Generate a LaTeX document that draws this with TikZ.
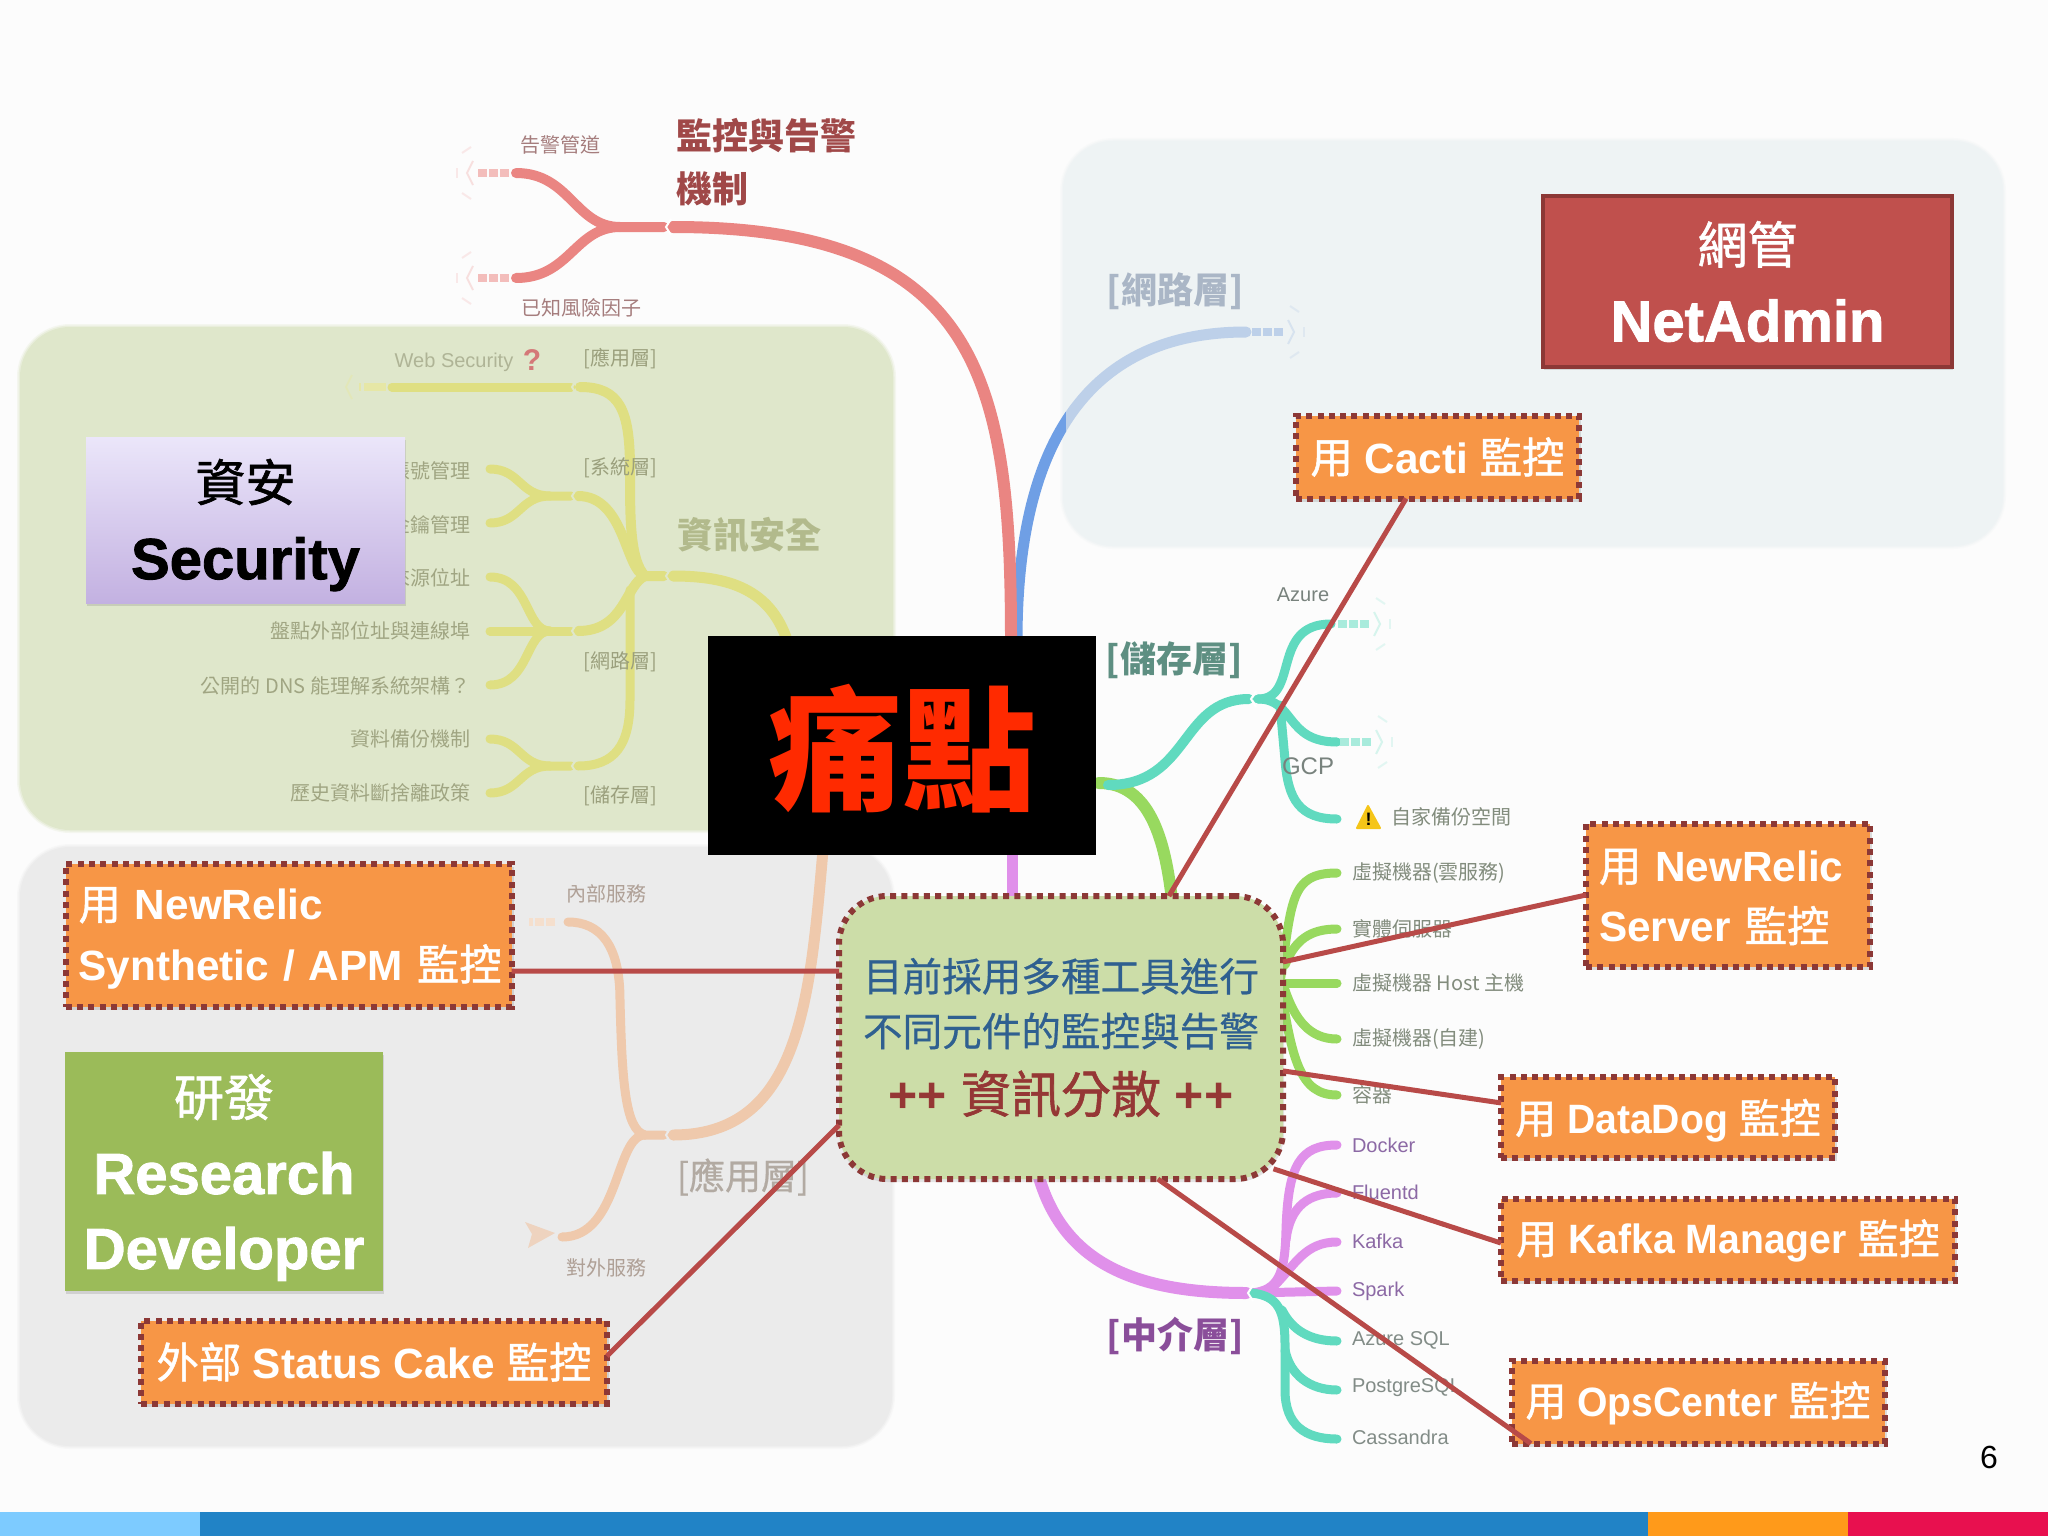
\documentclass[tikz,border=0pt]{standalone}
\usepackage{fontspec}
\usetikzlibrary{shadows,calc}
\setmainfont{Liberation Sans}
\newfontfamily\cjkf{Noto Sans CJK TC}
\newfontfamily\cjkm[FakeBold=0.5]{Noto Sans CJK TC}
\newfontfamily\cjkh[FakeBold=1.2]{Noto Sans CJK TC}
\newfontfamily\heavyf[FakeBold=1.5]{Liberation Sans Bold}
\newfontfamily\orgf[FakeStretch=0.955]{Liberation Sans Bold}
\newfontfamily\orgw{Liberation Sans Bold}
\newcommand{\Cj}[1]{{\mdseries\cjkh #1}}
\newcommand{\dn}[2]{\raisebox{-#1}[\height][\depth]{#2}}
\newcommand{\fs}[1]{\fontsize{#1}{#1}\selectfont}
\definecolor{cRed}{HTML}{EA8582}\definecolor{cRedP}{HTML}{F3BDBB}
\definecolor{cBlue}{HTML}{6F9FE5}\definecolor{cBlueP}{HTML}{BDD0E9}
\definecolor{cYel}{HTML}{DFDF82}\definecolor{cYelP}{HTML}{E6E7A6}
\definecolor{cTeal}{HTML}{60DABF}\definecolor{cGreen}{HTML}{98D95F}
\definecolor{cPur}{HTML}{E090EA}\definecolor{cPeach}{HTML}{EFC9AC}
\definecolor{cBorder}{HTML}{8C3836}\definecolor{cConn}{HTML}{B84A48}
\definecolor{cOrange}{HTML}{F79646}
\definecolor{pNet}{RGB}{238,243,244}\definecolor{pSec}{RGB}{223,231,203}\definecolor{pDev}{RGB}{235,235,235}
\tikzset{
  br/.style={line width=#1,line cap=round},
  lb/.style={inner sep=0,outer sep=0,font=\cjkf\fs{20}},
  lblat/.style={inner sep=0,outer sep=0,font=\fs{20}},
  head/.style={inner sep=0,outer sep=0,font=\cjkf\bfseries\fs{36}},
  obox/.style={draw=cBorder,fill=cOrange,line width=6pt,dash pattern=on 6pt off 5.3pt,
    inner sep=0,outer sep=0,text=white,font=\orgf\fs{41},
    drop shadow={opacity=.25,shadow xshift=2pt,shadow yshift=-3pt}},
  oboxw/.style={obox,font=\orgw\fs{42.3}},
  tbox/.style={inner sep=0,outer sep=0,align=center,font=\heavyf\fs{58},
    drop shadow={opacity=.25,shadow xshift=1pt,shadow yshift=-3pt}},
  conn/.style={draw=cConn,line width=5pt},
}
\newcommand{\softpanel}[5]{%
  \draw[#5,opacity=.25,line width=6pt,rounded corners=50pt] (#1,#2) rectangle (#3,#4);
  \draw[#5,opacity=.5,line width=3pt,rounded corners=50pt] (#1,#2) rectangle (#3,#4);
  \fill[#5,rounded corners=50pt] (#1,#2) rectangle (#3,#4);}
\newcommand{\burst}[4]{% x y xscale colour
  \begin{scope}[shift={(#1,#2)},xscale=#3]
    \draw[#4,line width=8pt,dash pattern=on 9pt off 2pt] (0,0)--(32,0);
    \draw[#4,line width=2pt,opacity=.45] (36,-12)--(42,0)--(36,12);
    \draw[#4,line width=2pt,opacity=.3] (52,-5)--(52,5);
    \draw[#4,line width=2pt,opacity=.3] (38,-26)--(47,-20) (38,26)--(47,20);
  \end{scope}}
\newcommand{\gapmark}[3]{\draw[#3,line width=2pt] (#1+3,#2-8)--(#1-2,#2)--(#1+3,#2+8);}
\begin{document}
\begin{tikzpicture}[x=1pt,y=-1pt]
\useasboundingbox (0,0) rectangle (2048,1536);
\fill[white!99!black] (0,0) rectangle (2048,1536);
% bottom bar
\fill[fill={rgb,255:red,125;green,203;blue,255}] (0,1512) rectangle (200,1536);
\fill[fill={rgb,255:red,33;green,131;blue,198}] (200,1512) rectangle (1648,1536);
\fill[fill={rgb,255:red,255;green,154;blue,26}] (1648,1512) rectangle (1848,1536);
\fill[fill={rgb,255:red,232;green,16;blue,79}] (1848,1512) rectangle (2048,1536);
% panels
\softpanel{1063}{141}{2003}{546}{pNet}
\softpanel{20}{327}{893}{830}{pSec}
\softpanel{20}{847}{892}{1446}{pDev}

% blue branch
\begin{scope}
  \clip (900,300) rectangle (1066,700);
  \draw[cBlue,br=11pt] (1017,640) .. controls (1017,440) and (1090,332) .. (1246,332);
\end{scope}
\begin{scope}
  \clip (1066,300) rectangle (1300,700);
  \draw[cBlueP,br=11pt] (1017,640) .. controls (1017,440) and (1090,332) .. (1246,332);
\end{scope}
\burst{1252}{332}{1}{cBlueP}
% red branch
\draw[cRed,br=12pt] (1011,640) .. controls (1011,380) and (980,227) .. (673,227);
\draw[cRed,br=10pt] (664,227) -- (620,227) .. controls (575,227) and (570,173) .. (516,173);
\draw[cRed,br=10pt] (620,227) .. controls (575,227) and (570,278) .. (516,278);
\gapmark{668}{227}{white}
\burst{509}{173}{-1}{cRedP}
\burst{509}{278}{-1}{cRedP}
% yellow branches
\draw[cYel,br=11pt] (787,640) .. controls (770,590) and (730,576) .. (673,576);
\draw[cYel,br=10pt] (664,576) -- (645,576) .. controls (630,560) and (630,520) .. (630,470) .. controls (630,410) and (620,387) .. (580,387);
\draw[cYel,br=9pt] (571,387) -- (392,387);
\draw[cYelP,line width=8pt,dash pattern=on 22pt off 3pt] (386,387) -- (359,387);
\draw[cYelP,line width=2pt,opacity=.5] (352,375)--(346,387)--(352,399);
\draw[cYel,br=10pt] (645,576) .. controls (625,570) and (625,496) .. (578,496);
\draw[cYel,br=9pt] (571,496) -- (550,496) .. controls (520,496) and (520,469) .. (490,469);
\draw[cYel,br=9pt] (550,496) .. controls (520,496) and (520,523) .. (490,523);
\draw[cYel,br=10pt] (645,576) .. controls (625,585) and (625,631) .. (578,631);
\draw[cYel,br=9pt] (571,631) -- (490,631);
\draw[cYel,br=9pt] (550,631) .. controls (525,631) and (530,577) .. (490,577);
\draw[cYel,br=9pt] (550,631) .. controls (525,631) and (530,685) .. (490,685);
\draw[cYel,br=9pt] (630,590) -- (630,700) .. controls (630,745) and (615,766) .. (578,766);
\draw[cYel,br=9pt] (571,766) -- (550,766) .. controls (520,766) and (520,739) .. (490,739);
\draw[cYel,br=9pt] (550,766) .. controls (520,766) and (520,793) .. (490,793);
\gapmark{668}{576}{pSec}\gapmark{574}{387}{pSec}\gapmark{574}{496}{pSec}\gapmark{574}{631}{pSec}\gapmark{574}{766}{pSec}
% peach branches
\draw[cPeach,br=11pt] (823,850) .. controls (810,1000) and (800,1135) .. (673,1135);
\draw[cPeach,br=9pt] (664,1135) -- (645,1135) .. controls (625,1130) and (622,1080) .. (620,1000) .. controls (620,945) and (600,922) .. (568,922);
\draw[cPeach,br=9pt] (645,1135) .. controls (615,1135) and (620,1237) .. (562,1237);
\gapmark{668}{1135}{pDev}
\draw[cPeach!60!white,line width=8pt,dash pattern=on 9pt off 2pt] (555,922) -- (529,922);
\fill[cPeach!70!pDev] (555,1233) -- (525,1222) -- (532,1234) -- (528,1248) -- cycle;
% teal/green branches
\draw[cGreen,br=12pt] (1099,783) .. controls (1150,783) and (1165,840) .. (1172,900);
\draw[cTeal,br=10pt] (1108,785) .. controls (1190,785) and (1180,699) .. (1249,699);
\draw[cTeal,br=9pt] (1258,699) .. controls (1300,699) and (1270,624) .. (1331,624);
\draw[cTeal,br=9pt] (1258,699) .. controls (1295,699) and (1285,742) .. (1337,742);
\draw[cTeal,br=9pt] (1280,705) -- (1285,760) .. controls (1288,800) and (1300,819) .. (1337,819);
\gapmark{1253}{699}{white}
\burst{1338}{624}{1}{cTeal!55!white}
\burst{1340}{742}{1}{cTeal!55!white}
% green server tree
\draw[cGreen,br=9pt] (1270,983) -- (1337,983);
\draw[cGreen,br=9pt] (1280,983) .. controls (1292,900) and (1290,873) .. (1337,873);
\draw[cGreen,br=9pt] (1285,965) .. controls (1295,940) and (1310,929) .. (1337,929);
\draw[cGreen,br=9pt] (1285,990) .. controls (1295,1020) and (1310,1039) .. (1337,1039);
\draw[cGreen,br=9pt] (1280,983) .. controls (1292,1060) and (1300,1095) .. (1337,1095);
% purple branches
\draw[cPur,br=11pt] (1012,850) -- (1012,900);
\draw[cPur,br=12pt] (1037,1170) .. controls (1060,1260) and (1130,1293) .. (1246,1293);
\draw[cPur,br=9pt] (1252,1293) .. controls (1278,1290) and (1285,1275) .. (1286,1230) .. controls (1288,1165) and (1300,1145) .. (1337,1145);
\draw[cPur,br=9pt] (1286,1240) .. controls (1290,1205) and (1310,1193) .. (1337,1193);
\draw[cPur,br=9pt] (1275,1285) .. controls (1295,1265) and (1305,1242) .. (1337,1242);
\draw[cPur,br=9pt] (1252,1293) -- (1337,1291);
% teal lower
\draw[cTeal,br=9pt] (1252,1293) .. controls (1278,1296) and (1285,1310) .. (1285,1345) -- (1285,1390) .. controls (1285,1425) and (1305,1439) .. (1337,1439);
\draw[cTeal,br=9pt] (1282,1310) .. controls (1292,1330) and (1310,1341) .. (1337,1341);
\draw[cTeal,br=9pt] (1285,1350) .. controls (1290,1375) and (1310,1390) .. (1337,1390);
\gapmark{1250}{1293}{white}
% warning sign
\fill[line join=round,draw={rgb,255:red,245;green,197;blue,24},line width=2pt,fill={rgb,255:red,245;green,197;blue,24}] (1357,828) -- (1368,806) -- (1380,828) -- cycle;
\node[inner sep=0,font=\bfseries\fs{18}] (warnmark) at (1368.5,819) {!};

% mind map labels
\node[lb,text={rgb,255:red,165;green,125;blue,125}] (lAlarm) at (560,145) {告警管道};
\node[lb,text={rgb,255:red,165;green,125;blue,125}] (lRisk) at (581,308) {已知風險因子};
\node[head,anchor=west,text={rgb,255:red,160;green,72;blue,72}] (lMon1) at (676,136) {監控與告警};
\node[head,anchor=west,text={rgb,255:red,160;green,72;blue,72}] (lMon2) at (676,189) {機制};
\node[lblat,text={rgb,255:red,175;green,180;blue,150}] (lWeb) at (454,362) {Web Security};
\node[inner sep=0,font=\bfseries\fs{30},text={rgb,255:red,212;green,120;blue,120}] (lQ) at (532,360) {?};
\node[lb,text={rgb,255:red,155;green,160;blue,125}] (lA1) at (620,359) {[應用層]};
\node[lb,text={rgb,255:red,155;green,160;blue,125}] (lA2) at (620,468) {[系統層]};
\node[lb,text={rgb,255:red,155;green,160;blue,125}] (lA3) at (620,662) {[網路層]};
\node[lb,text={rgb,255:red,155;green,160;blue,125}] (lA4) at (620,796) {[儲存層]};
\node[head,anchor=west,text={rgb,255:red,178;green,186;blue,140}] (lSec) at (677,535) {資訊安全};
\tikzset{seclab/.style={lb,anchor=east,text={rgb,255:red,160;green,165;blue,130}}}
\node[seclab] (s1) at (470,471) {帳號管理};
\node[seclab] (s2) at (470,525) {金鑰管理};
\node[seclab] (s3) at (470,578) {來源位址};
\node[seclab] (s4) at (470,631) {盤點外部位址與連線埠};
\node[seclab] (s5) at (470,686) {公開的 DNS 能理解系統架構？};
\node[seclab] (s6) at (470,739) {資料備份機制};
\node[seclab] (s7) at (470,793) {歷史資料斷捨離政策};
\node[head,text={rgb,255:red,170;green,182;blue,198}] (lNet) at (1175,291) {[網路層]};
\node[head,text={rgb,255:red,94;green,143;blue,130}] (lSto) at (1174,660) {[儲存層]};
\node[head,text={rgb,255:red,138;green,78;blue,154}] (lMid) at (1175,1336) {[中介層]};
\node[head,font=\cjkm\fs{36},text={rgb,255:red,178;green,170;blue,162}] (lApp) at (743,1177) {[應用層]};
\tikzset{gl/.style={lb,anchor=west,text={rgb,255:red,130;green,140;blue,125}},
         gt/.style={lblat,anchor=west,text={rgb,255:red,130;green,140;blue,135}},
         pt/.style={lblat,anchor=west,text={rgb,255:red,140;green,105;blue,165}}}
\node[lblat,text={rgb,255:red,120;green,130;blue,125}] (lAz) at (1303,595) {Azure};
\node[lblat,font=\fs{24},text={rgb,255:red,120;green,130;blue,125}] (lGcp) at (1308,766) {GCP};
\node[gl] (g0) at (1391,817) {自家備份空間};
\node[gl] (g1) at (1352,873) {虛擬機器(雲服務)};
\node[gl] (g2) at (1352,929) {實體伺服器};
\node[gl] (g3) at (1352,983) {虛擬機器 Host 主機};
\node[gl] (g4) at (1352,1039) {虛擬機器(自建)};
\node[gl] (g5) at (1352,1095) {容器};
\node[pt] (p1) at (1352,1145) {Docker};
\node[pt] (p2) at (1352,1192) {Fluentd};
\node[pt] (p3) at (1352,1241) {Kafka};
\node[pt] (p4) at (1352,1291) {Spark};
\node[gt] (t1) at (1352,1340) {Azure SQL};
\node[gt] (t2) at (1352,1388) {PostgreSQL};
\node[gt] (t3) at (1352,1437) {Cassandra};
\node[lb,text={rgb,255:red,175;green,160;blue,150}] (lIn) at (606,894) {內部服務};
\node[lb,text={rgb,255:red,175;green,160;blue,150}] (lOut) at (606,1268) {對外服務};

% role boxes
\node[tbox,draw={rgb,255:red,140;green,56;blue,54},line width=4pt,fill={rgb,255:red,192;green,80;blue,77},text=white,
  minimum width=409,minimum height=171] (netadmin) at (1747.5,281.5)
  {{\cjkh\fs{50}網管}\\[20pt]NetAdmin};
\node[tbox,top color={rgb,255:red,235;green,230;blue,250},bottom color={rgb,255:red,195;green,177;blue,225},text=black,
  minimum width=319,minimum height=166] (security) at (245.5,520)
  {\dn{5pt}{\cjkh\fs{50}資安}\\[20pt]\dn{5pt}{Security}};
\node[tbox,fill={rgb,255:red,155;green,187;blue,89},text=white,
  minimum width=318,minimum height=239] (research) at (224,1171.5)
  {\dn{6pt}{\cjkh\fs{50}研發}\\[20pt]\dn{6pt}{Research}\\[17pt]\dn{6pt}{Developer}};
\node[inner sep=0,outer sep=0,fill=black,text={rgb,255:red,255;green,42;blue,0},font=\cjkf\bfseries\fs{134},
  minimum width=388,minimum height=219] (pain) at (902,745.5) {\dn{3pt}{痛點}};

% centre box
\node[draw=cBorder,fill={rgb,255:red,204;green,221;blue,168},line width=6pt,dash pattern=on 6pt off 5.3pt,rounded corners=48pt,
  inner sep=0,outer sep=0,minimum width=444,minimum height=283,align=center,
  drop shadow={opacity=.2,shadow xshift=1pt,shadow yshift=-3pt}] (centre) at (1061,1037.5)
  {\cjkm\fs{39.6}\color[RGB]{47,96,144}目前採用多種工具進行\\[17pt]
   \cjkm\fs{39.6}\color[RGB]{47,96,144}不同元件的監控與告警\\[20pt]
   \color[RGB]{149,55,53}\fs{50}{\bfseries ++} {\cjkh 資訊分散} {\bfseries ++}};

% orange boxes
\node[oboxw,minimum width=283,minimum height=83] (cacti) at (1437.5,457) {\Cj{用} Cacti \Cj{監控}};
\node[oboxw,text width=258,inner xsep=13,minimum height=143,align=left] (server) at (1728,895)
  {\dn{2pt}{\Cj{用} NewRelic}\\[18pt]\dn{2pt}{Server \Cj{監控}}};
\node[obox,minimum width=334,minimum height=81] (datadog) at (1668,1117.5) {\dn{3pt}{\Cj{用} DataDog \Cj{監控}}};
\node[obox,minimum width=454,minimum height=82] (kafka) at (1728,1240) {\dn{1pt}{\Cj{用} Kafka Manager \Cj{監控}}};
\node[obox,minimum width=373,minimum height=83] (ops) at (1698,1402) {\dn{1pt}{\Cj{用} OpsCenter \Cj{監控}}};
\node[oboxw,text width=420,inner xsep=13,minimum height=143,align=left] (synth) at (288.6,935)
  {\dn{3pt}{\Cj{用} NewRelic}\\[18pt]\dn{3pt}{Synthetic / APM \Cj{監控}}};
\node[oboxw,minimum width=466,minimum height=83] (cake) at (374,1362) {\Cj{外部} Status Cake \Cj{監控}};

% connectors
\draw[conn] ($(cacti.south west)!.389!(cacti.south east)$) -- ($(centre.north west)!.743!(centre.north east)$);
\draw[conn] (server.west) -- ($(centre.north east)!.233!(centre.south east)$);
\draw[conn] ($(datadog.north west)!.32!(datadog.south west)$) -- ($(centre.north east)!.618!(centre.south east)$);
\draw[conn,shorten >=-10pt] ($(kafka.north west)!.537!(kafka.south west)$) -- ($(centre.north east)!.975!(centre.south east)$);
\draw[conn] ($(ops.south west)!.052!(ops.south east)$) -- ($(centre.south west)!.718!(centre.south east)$);
\draw[conn] ($(synth.north east)!.752!(synth.south east)$) -- ($(centre.north west)!.265!(centre.south west)$);
\draw[conn] ($(cake.north east)!.428!(cake.south east)$) -- ($(centre.north west)!.81!(centre.south west)$);

\node[inner sep=0,font=\fs{32}] (pageno) at (1989,1457) {6};
\end{tikzpicture}
\end{document}
